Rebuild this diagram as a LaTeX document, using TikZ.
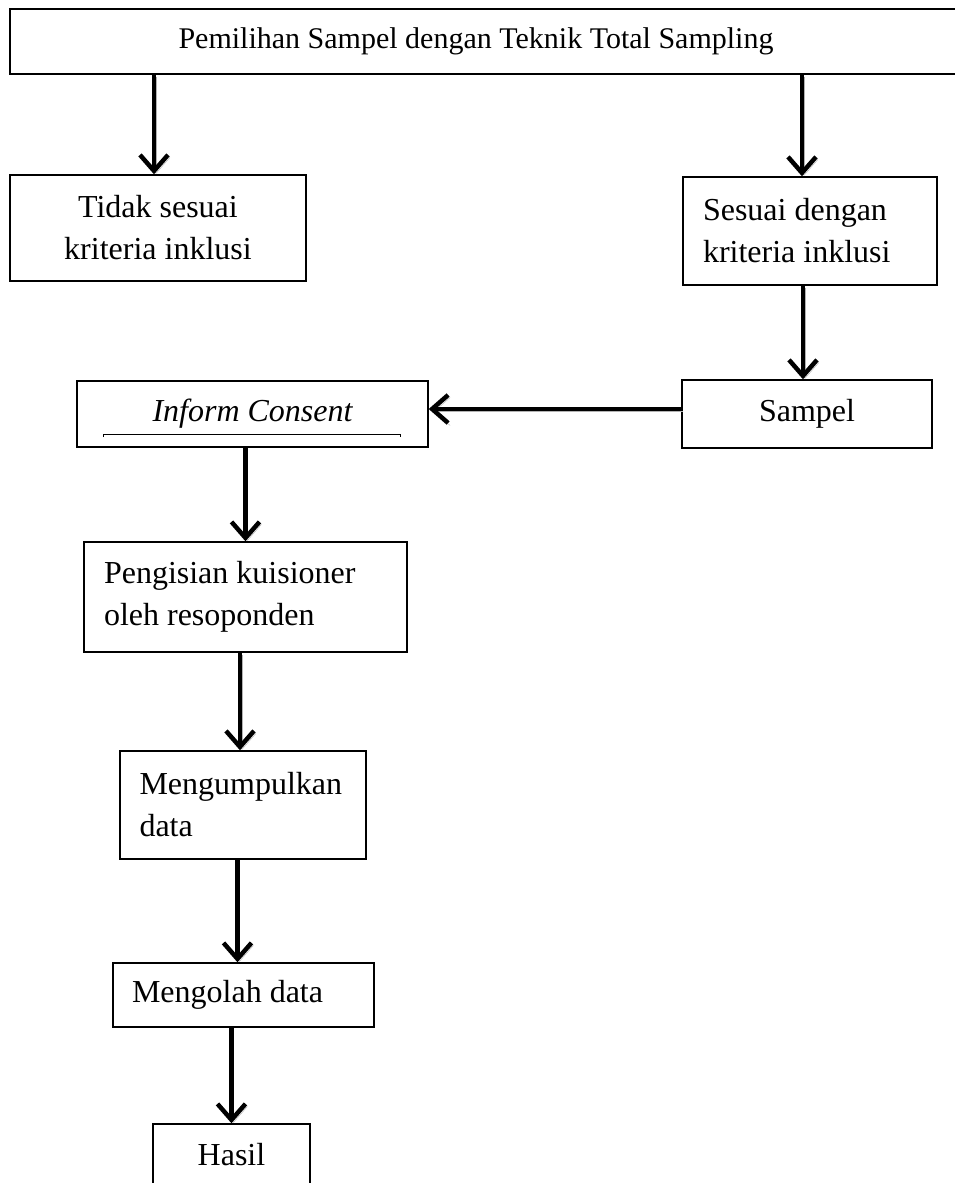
\documentclass[tikz,border=0pt]{standalone}
\usepackage{fontspec}
\setmainfont{Liberation Serif}
\usetikzlibrary{arrows.meta,calc}

\begin{document}
\begin{tikzpicture}[x=1pt, y=-1pt,
    kotak/.style={draw, line width=1.4pt, inner sep=0pt, font=\fontsize{32}{42}\selectfont},
    panah/.style={line width=4.5pt, -{Straight Barb[length=16pt, width=28pt]},
      preaction={draw=black!30, transform canvas={shift={(2pt,-2.5pt)}}}}]
      \useasboundingbox (0,0) rectangle (955,1183);
      \clip (0,0) rectangle (955,1183);

      % Kotak judul di atas
      \node[kotak, minimum width=965, minimum height=65, font=\fontsize{30}{36}\selectfont] (pemilihan) at (492.5,41.5) {\hspace*{-33pt}Pemilihan Sampel dengan Teknik Total Sampling};

      % Kolom kiri atas dan kanan
      \node[kotak, minimum width=296, minimum height=106, align=center] (tidak) at (158,228) {Tidak sesuai\\kriteria inklusi};
      \node[kotak, minimum width=254, minimum height=108, text width=214, inner xsep=20pt, align=flush left] (sesuai) at (810,231) {Sesuai dengan\\kriteria inklusi};
      \node[kotak, minimum width=250, minimum height=68] (sampel) at (807,414) {Sampel};

      % Inform consent
      \node[kotak, minimum width=351, minimum height=66, font=\fontsize{32}{42}\selectfont\itshape] (inform) at (252.5,414) {Inform Consent};
      \draw[line width=0.8pt] (103,437) -- (103,434) -- (400,434) -- (400,437);

      % Kolom bawah
      \node[kotak, minimum width=323, minimum height=110, text width=283, inner xsep=20pt, align=flush left] (pengisian) at (245.5,597) {Pengisian kuisioner\\oleh resoponden};
      \node[kotak, minimum width=246, minimum height=108, text width=207, inner xsep=19.5pt, align=flush left] (kumpul) at (243,805) {Mengumpulkan\\data};
      \node[kotak, minimum width=261, minimum height=64, text width=223, inner xsep=19pt, align=flush left] (olah) at (243.5,995) {Mengolah data};
      \node[kotak, minimum width=157, minimum height=62] (hasil) at (231.5,1155) {Hasil};

      \draw[panah] ($(tidak.north |- pemilihan.south)+(-4,0)$) -- ($(tidak.north)+(-4,0)$);
      \draw[panah] ($(sesuai.north |- pemilihan.south)+(-8,0)$) -- ($(sesuai.north)+(-8,0)$);
      \draw[panah] ($(sesuai.south)+(-7,0)$) -- ($(sesuai.south |- sampel.north)+(-7,0)$);
      \draw[panah] ($(sampel.west)+(0,-5)$) -- ($(inform.east)+(0,-5)$);

      \draw[panah] (pengisian.north |- inform.south) -- (pengisian.north);
      \draw[panah] ($(kumpul.north |- pengisian.south)+(-3,0)$) -- ($(kumpul.north)+(-3,0)$);
      \draw[panah] ($(olah.north |- kumpul.south)+(-6,0)$) -- ($(olah.north)+(-6,0)$);
      \draw[panah] (hasil.north |- olah.south) -- (hasil.north);
    \end{tikzpicture}
\end{document}
